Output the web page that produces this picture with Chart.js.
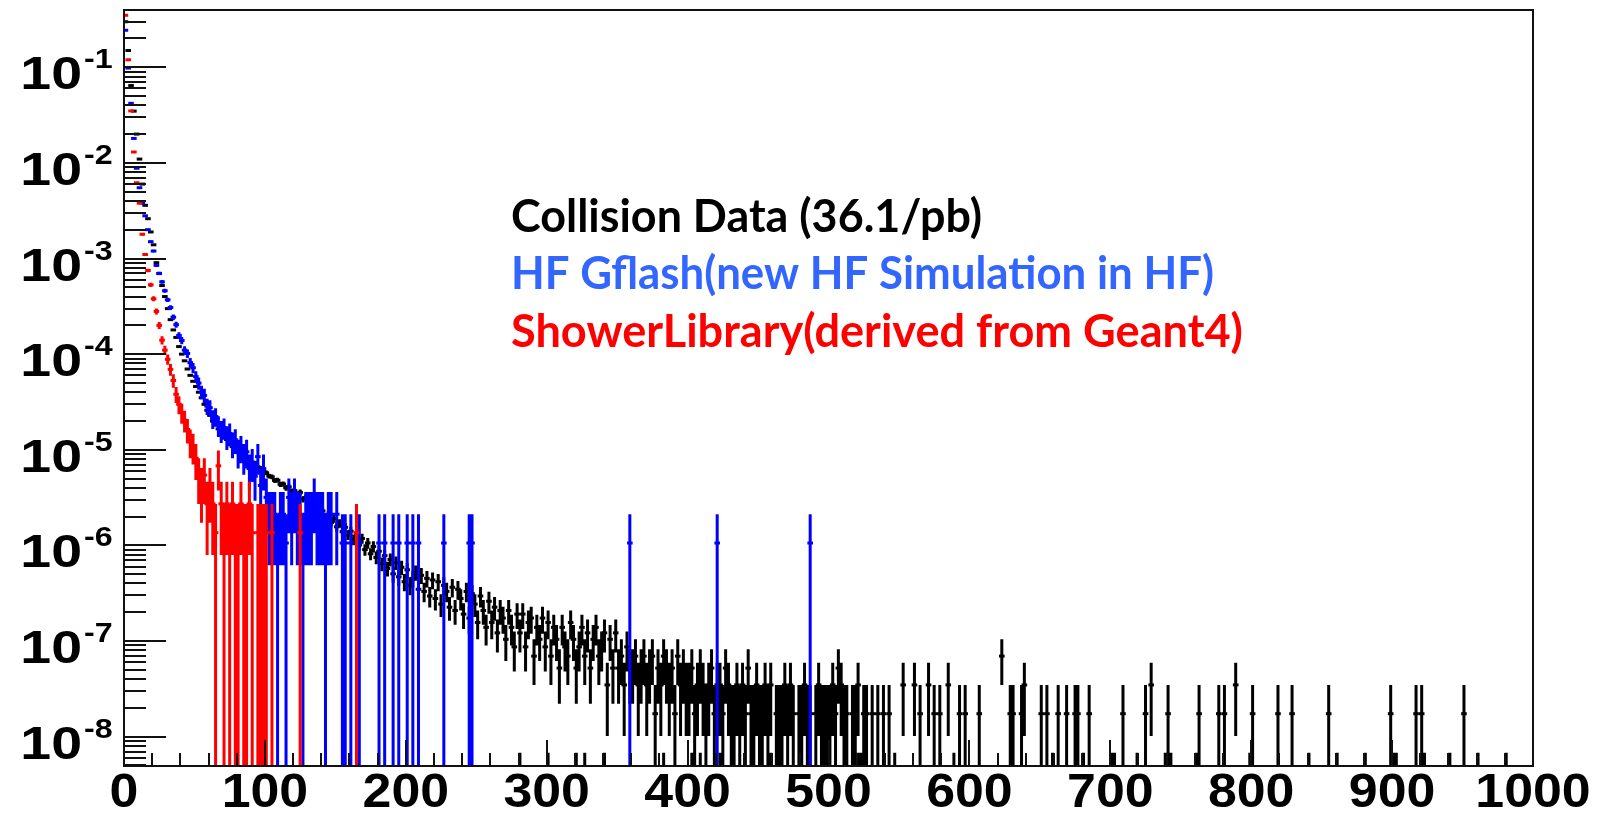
<!DOCTYPE html>
<html>
<head>
<meta charset="utf-8">
<title>HF energy spectrum</title>
<script src="https://cdn.jsdelivr.net/npm/chart.js@4.4.1/dist/chart.umd.min.js"></script>
<style>
  html, body { margin: 0; padding: 0; background: #fff; }
  #wrap { width: 1613px; height: 815px; }
</style>
</head>
<body>
<div id="wrap"><canvas id="spectrum" width="1613" height="815"></canvas></div>
<script>
// histogram binning (2 units per bin, bin i is centred at 2*i+1)
const BIN_WIDTH = 2;

// weight of one entry for each sample (error = sqrt(N) * weight)
const W_DATA = 1.74e-8;
const W_DATA_LOW = 3.4e-9;
const W_GFLASH = 1.06e-6;
const W_SHOWERLIB = 1.36e-6;

// axis range and tick labels
const X_MIN = 0, X_MAX = 1000;
const Y_MIN = 4.94e-9, Y_MAX = 0.397;
const xTickLabels = [0, 100, 200, 300, 400, 500, 600, 700, 800, 900, 1000];
const yTickPowers = [-1, -2, -3, -4, -5, -6, -7, -8];

const legendLines = [
    'Collision Data (36.1/pb)',
    'HF Gflash(new HF Simulation in HF)',
    'ShowerLibrary(derived from Geant4)'
];
const legendColors = ['#000000', '#3366ff', '#ff0000'];

// Collision data: entries per bin, 0 -> 540
const dataCounts = [
    17200000, 8600000, 3700000, 2000000, 1150000, 630000, 345000, 207000, 150000, 109000,
    80000, 52000, 40000, 30000, 23000, 17200, 13200, 10300, 8600, 6900,
    5750, 4900, 4020, 3450, 2990, 2640, 2300, 2010, 1720, 1490,
    1320, 1150, 1060, 950, 860, 805, 736, 678, 621, 575,
    540, 530, 480, 470, 455, 420, 415, 380, 370, 340,
    330, 305, 300, 275, 276, 250, 252, 230, 236, 212,
    215, 190, 206, 175, 182, 158, 166, 140, 152, 126,
    132, 112, 121, 100, 110, 90, 98, 80, 89, 74,
    81, 66, 74, 58, 68, 52, 61, 47, 56, 43,
    50, 37, 45, 33, 41, 29, 38, 27, 34, 24,
    32, 22, 26, 30, 20, 28, 19, 26, 17, 25,
    16, 24, 14, 22, 19, 13, 21, 12, 20, 16,
    11, 19, 10, 18, 14, 9, 17, 12, 8, 15,
    9, 13, 7, 12, 10, 6, 12, 8, 5, 11,
    7, 11, 5, 9, 10, 4, 8, 6, 10, 5,
    9, 4, 8, 6, 3, 8, 5, 4, 9, 6, 3, 5, 8, 4, 7, 3, 6, 8, 4, 5, 7, 2, 6, 3, 7,
    3, 4, 2, 5, 3, 3, 4, 2, 3, 4, 2, 3, 4, 1, 3, 2, 4, 3, 2, 3, 1, 4, 2, 3, 2,
    2, 3, 1, 2, 3, 2, 1, 2, 3, 1, 2, 2, 1, 3, 2, 1, 1, 2, 1, 2, 1, 3, 1, 1, 2,
    1, 1, 2, 1, 2, 0, 1, 1, 1, 2, 1, 2, 1, 0, 1, 1, 2, 1, 1, 0, 1, 2, 1, 1, 1,
    1, 2, 1, 3, 2, 1, 1, 0, 1, 1, 2, 0, 1, 1, 0, 1, 0, 1, 0, 1
];
// sparse tail of the data (bin centre, entries)
const dataTailX = [543, 553, 561, 565, 571, 575, 579, 585, 593, 597, 607, 623, 629, 631, 637, 639,
    651, 655, 663, 669, 675, 677, 685, 709, 725, 729, 741, 763, 777, 781, 789, 801, 819, 829,
    855, 899, 917, 921, 951];
const dataTailN = [1, 2, 2, 1, 2, 1, 1, 2, 1, 1, 1, 4, 1, 1, 1, 2,
    1, 1, 1, 1, 1, 1, 1, 1, 1, 2, 1, 1, 1, 1, 2, 1, 1, 1,
    1, 1, 1, 1, 1];
// low-weight single entries (only the stub above the axis floor shows)
const dataLowX = [281, 301, 321, 327, 341, 383, 403, 405, 409, 419, 423, 459, 479, 519, 521, 523,
    547, 589, 659, 681, 701, 703, 719, 739, 741, 743, 761, 781, 799, 801, 819, 841, 861, 881,
    901, 903, 921, 923, 941, 961, 981];

// HF Gflash: entries per bin, 0 -> 248
const gflashCounts = [
    230000, 92500, 39600, 17000, 8300, 5190, 3580, 2640, 1890, 1415,
    1130, 800, 660, 538, 434, 349, 290, 230, 192, 148,
    131, 104, 96, 77, 68, 55, 47, 38, 35, 27,
    26, 20, 21, 17, 15, 16, 13, 14, 11, 12,
    9, 10, 8, 9, 6, 7, 5, 8, 4, 6,
    3, 2, 2, 2, 1, 2, 2, 1, 3, 2,
    3, 2, 2, 1, 2, 2, 2, 3, 2, 2,
    2, 1, 2, 2, 0, 2, 0, 1, 1, 0,
    1, 0, 0, 1, 0, 0, 0, 0, 0, 0,
    1, 0, 1, 0, 0, 1, 0, 1, 0, 0,
    1, 0, 1, 0, 1, 0, 0, 0, 0, 0,
    0, 0, 0, 1, 0, 0, 0, 0, 0, 0,
    0, 0, 1, 1
];
const gflashTailX = [359, 421, 487];
const gflashTailN = [1, 1, 1];

// ShowerLibrary: entries per bin, 0 -> 166
const showerLibCounts = [
    257000, 88000, 25700, 9560, 4560, 2790, 1320, 810, 551, 390,
    279, 206, 147, 103, 81, 65, 51, 39, 28, 22,
    18, 15, 12, 9, 8, 6, 4, 3, 4, 2,
    3, 2, 1, 5, 2, 1, 2, 1, 2, 1,
    1, 2, 1, 1, 2, 1, 0, 1, 1, 1,
    1, 0, 1, 0, 0, 0, 0, 0, 0, 0,
    0, 0, 1, 0, 0, 0, 0, 0, 0, 0,
    0, 0, 0, 0, 0, 0, 0, 0, 0, 0,
    0, 0, 1
];

/**
 * Turns bin counts into points {x, y, e}: y = N*w, e = sqrt(N)*w.
 */
function histPoints(counts, weight, tailX = [], tailN = []) {
    const pts = [];
    counts.forEach((n, i) => {
        if (n > 0) pts.push({ x: BIN_WIDTH * i + BIN_WIDTH / 2, y: n * weight, e: Math.sqrt(n) * weight });
    });
    tailX.forEach((x, i) => {
        const n = tailN[i] ?? 1;
        pts.push({ x, y: n * weight, e: Math.sqrt(n) * weight });
    });
    return pts;
}

const dataPoints = histPoints(dataCounts, W_DATA, dataTailX, dataTailN)
    .concat(histPoints([], W_DATA_LOW, dataLowX));
const gflashPoints = histPoints(gflashCounts, W_GFLASH, gflashTailX, gflashTailN);
const showerLibPoints = histPoints(showerLibCounts, W_SHOWERLIB);

const BAR_WIDTH = 3;

// vertical error bars, drawn right after each dataset so the stacking follows 'order'
const errorBarPlugin = {
    id: 'errorBars',
    afterDatasetDraw(chart, args) {
        const ds = chart.data.datasets[args.index];
        const { ctx, chartArea: a, scales: { x, y } } = chart;
        ctx.save();
        ctx.beginPath();
        ctx.rect(a.left, a.top, a.right - a.left, a.bottom - a.top);
        ctx.clip();
        ctx.strokeStyle = ds.borderColor;
        ctx.lineWidth = BAR_WIDTH;
        ctx.beginPath();
        ds.data.forEach(p => {
            const px = x.getPixelForValue(p.x);
            const lo = p.y - p.e;
            const top = Math.max(y.getPixelForValue(p.y + p.e), a.top);
            const bot = lo > 0 ? Math.min(y.getPixelForValue(lo), a.bottom) : a.bottom;
            ctx.moveTo(px, top);
            ctx.lineTo(px, bot);
        });
        ctx.stroke();
        ctx.restore();
    }
};

function drawStretched(ctx, text, x, y, sx, align) {
    ctx.save();
    ctx.translate(x, y);
    ctx.scale(sx, 1);
    ctx.textAlign = align;
    ctx.fillText(text, 0, 0);
    ctx.restore();
}

// ROOT style frame: ticks inside the pad, big bold labels
const rootAxesPlugin = {
    id: 'rootAxes',
    afterDraw(chart) {
        const { ctx, chartArea: a, scales: { x, y } } = chart;
        ctx.save();
        ctx.strokeStyle = '#111';
        ctx.lineWidth = 2;
        ctx.strokeRect(a.left, a.top, a.right - a.left, a.bottom - a.top);

        // log ticks on y: decades long, 2..9 short
        ctx.beginPath();
        for (let p = -9; p <= 0; p++) {
            for (let m = 1; m <= 9; m++) {
                const v = m * Math.pow(10, p);
                if (v < Y_MIN || v > Y_MAX) continue;
                const py = Math.round(y.getPixelForValue(v));
                ctx.moveTo(a.left, py);
                ctx.lineTo(a.left + (m === 1 ? 42 : 22), py);
            }
        }
        // x ticks every 20, long at the hundreds
        for (let v = X_MIN; v <= X_MAX; v += 20) {
            const px = Math.round(x.getPixelForValue(v));
            ctx.moveTo(px, a.bottom);
            ctx.lineTo(px, a.bottom - (v % 100 === 0 ? 26 : 13));
        }
        ctx.stroke();

        ctx.fillStyle = '#000';
        ctx.textBaseline = 'alphabetic';
        ctx.font = 'bold 48px "Liberation Sans", Arial, sans-serif';
        xTickLabels.forEach(v => {
            drawStretched(ctx, String(v), x.getPixelForValue(v), 807, 1.08, 'center');
        });
        yTickPowers.forEach(p => {
            const py = y.getPixelForValue(Math.pow(10, p));
            ctx.font = 'bold 47px "Liberation Sans", Arial, sans-serif';
            drawStretched(ctx, '10', 82, py + 22, 1.18, 'right');
            ctx.font = 'bold 28px "Liberation Sans", Arial, sans-serif';
            drawStretched(ctx, String(p), 84, py + 1, 1.15, 'left');
        });
        ctx.restore();
    }
};

// the three coloured text lines inside the pad
const legendTextPlugin = {
    id: 'legendText',
    afterDraw(chart) {
        const ctx = chart.ctx;
        const baselines = [232, 289, 347];
        const widths = [471, 703, 732];
        ctx.save();
        ctx.font = 'bold 45px Lato, "Open Sans", sans-serif';
        ctx.textBaseline = 'alphabetic';
        legendLines.forEach((txt, i) => {
            ctx.fillStyle = legendColors[i];
            const sx = widths[i] / ctx.measureText(txt).width;
            drawStretched(ctx, txt, 511, baselines[i], sx, 'left');
        });
        ctx.restore();
    }
};

const pointOpts = { pointStyle: 'line', pointRadius: 2.8, pointBorderWidth: BAR_WIDTH, pointHoverRadius: 2.8 };

new Chart(document.getElementById('spectrum'), {
    type: 'scatter',
    data: {
        datasets: [
            { label: legendLines[0], data: dataPoints, borderColor: '#000000', backgroundColor: '#000000', order: 3, ...pointOpts },
            { label: legendLines[1], data: gflashPoints, borderColor: '#0000ff', backgroundColor: '#0000ff', order: 2, ...pointOpts },
            { label: legendLines[2], data: showerLibPoints, borderColor: '#ff0000', backgroundColor: '#ff0000', order: 1, ...pointOpts }
        ]
    },
    options: {
        responsive: false,
        animation: false,
        devicePixelRatio: 1,
        events: [],
        layout: { padding: { top: 10, right: 80, left: 0, bottom: 0 } },
        plugins: {
            legend: { display: false },
            tooltip: { enabled: false }
        },
        scales: {
            x: {
                type: 'linear',
                min: X_MIN,
                max: X_MAX,
                grid: { display: false },
                border: { display: false },
                ticks: { display: false },
                afterFit: scale => { scale.height = 49; }
            },
            y: {
                type: 'logarithmic',
                min: Y_MIN,
                max: Y_MAX,
                bounds: 'data',
                grid: { display: false },
                border: { display: false },
                ticks: { display: false },
                afterFit: scale => { scale.width = 124; }
            }
        }
    },
    plugins: [errorBarPlugin, rootAxesPlugin, legendTextPlugin]
});
</script>
</body>
</html>
